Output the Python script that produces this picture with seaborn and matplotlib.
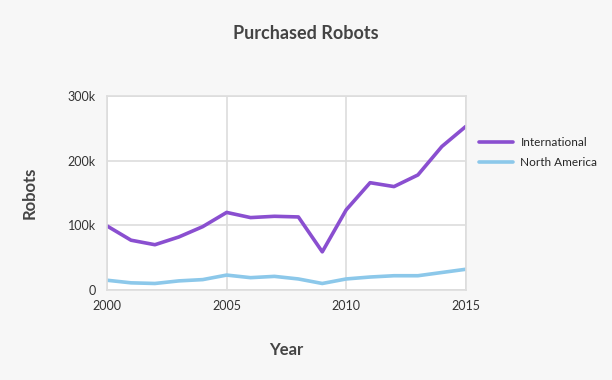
import pandas as pd
import seaborn as sns
import matplotlib.pyplot as plt

years = list(range(2000, 2016))
international = [99, 77, 70, 82, 98, 120, 112, 114, 113, 59, 124, 166, 160, 178, 222, 253]
north_america = [15, 11, 10, 14, 16, 23, 19, 21, 17, 10, 17, 20, 22, 22, 27, 32]

df = pd.DataFrame({
    'Year': years * 2,
    'Robots': [v * 1000 for v in international + north_america],
    'Region': ['International'] * len(years) + ['North America'] * len(years),
})

sns.set_style('whitegrid')
plt.rcParams['font.family'] = ['Lato', 'DejaVu Sans']

fig = plt.figure(figsize=(6.12, 3.8), dpi=100, facecolor='#f7f7f7')
ax = fig.add_axes([0.175, 0.237, 0.586, 0.51])
ax.set_facecolor('white')

palette = {'International': '#8a4fd0', 'North America': '#8cc8ea'}
sns.lineplot(data=df, x='Year', y='Robots', hue='Region', palette=palette,
             linewidth=2.6, ax=ax)

ax.set_xlim(2000, 2015)
ax.set_ylim(0, 300000)
ax.set_xticks([2000, 2005, 2010, 2015])
ax.set_yticks([0, 100000, 200000, 300000])
ax.set_yticklabels(['0', '100k', '200k', '300k'])
ax.grid(True, color='#dddddd', linewidth=1.2)
for s in ax.spines.values():
    s.set_color('#dddddd')
    s.set_linewidth(1.2)
ax.tick_params(axis='y', length=5, color='#cccccc', labelsize=9, colors='#333333', pad=3)
ax.tick_params(axis='x', length=0, labelsize=9, colors='#333333', pad=7)
for lbl in ax.get_yticklabels():
    lbl.set_color('#333333')

ax.set_xlabel('Year', fontsize=12, fontweight='bold', color='#444444', labelpad=22)
ax.set_ylabel('Robots', fontsize=12, fontweight='bold', color='#444444', labelpad=22)
fig.suptitle('Purchased Robots', x=0.5, y=0.935, fontsize=13, fontweight='bold', color='#444444')

ax.legend(title=None, loc='upper left', bbox_to_anchor=(1.024, 0.814), frameon=False,
          fontsize=8.5, handlelength=2.9, handletextpad=0.6, borderaxespad=0,
          labelspacing=0.8)

fig.savefig('out.png', dpi=100, facecolor=fig.get_facecolor())
